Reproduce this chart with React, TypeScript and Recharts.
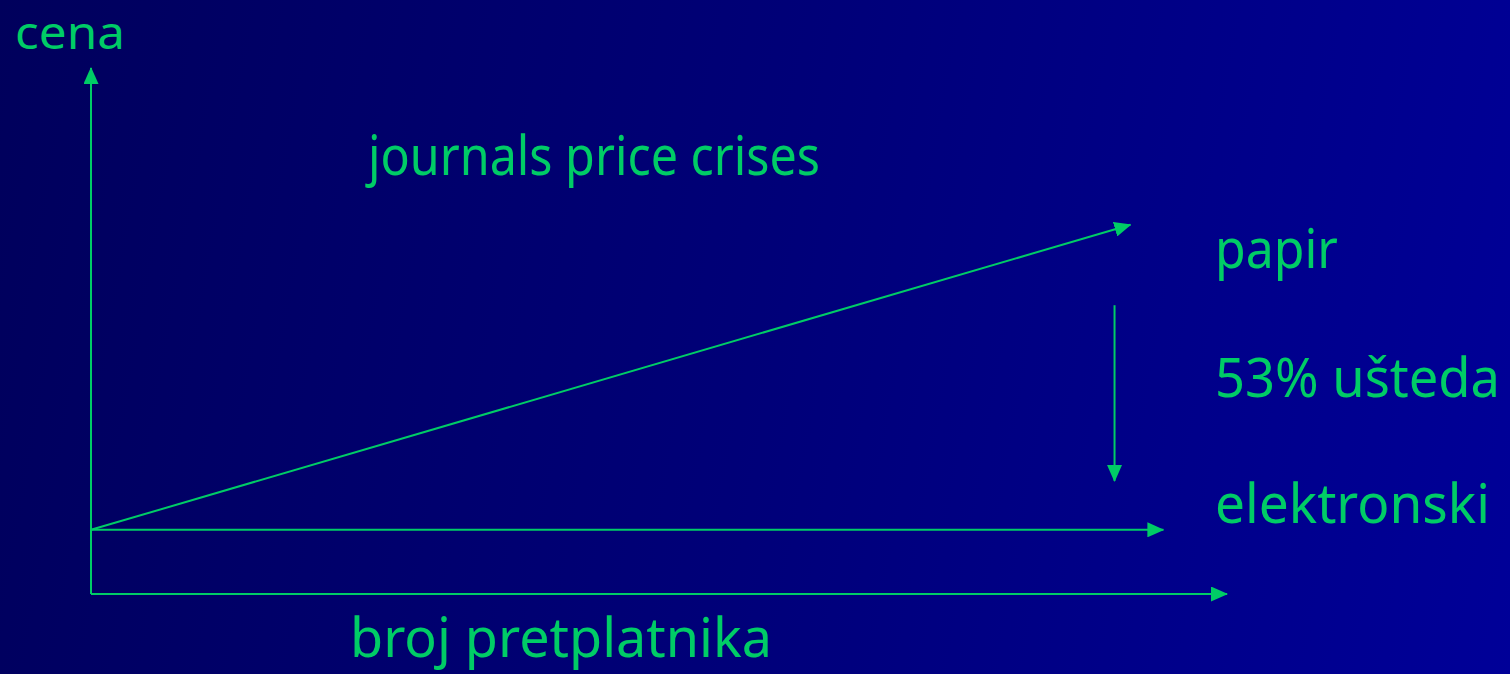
import React from "react";
import { LineChart, Line, XAxis, YAxis } from "recharts";

// abstract units: subscribers (x) and price (y), both 0..100
const axisX = [
  { x: 0, y: 0 },
  { x: 100, y: 0 },
];
const axisY = [
  { x: 0, y: 0 },
  { x: 0, y: 100 },
];
const paperPrice = [
  { x: 0, y: 12.2 },
  { x: 91.5, y: 70.2 },
];
const electronicPrice = [
  { x: 0, y: 12.2 },
  { x: 94.4, y: 12.2 },
];
const savingsArrow = [
  { x: 90.1, y: 54.9 },
  { x: 90.1, y: 21.5 },
];

const axisTitles = ["cena", "broj pretplatnika"];
const title = "journals price crises";
const sideLabels = ["papir", "53% ušteda", "elektronski"];

const GREEN = "#00cc66";
const FONT = '"Comic Sans MS", "Noto Sans", sans-serif';

function Txt({ x, y, w, size = 54, children }: { x: number; y: number; w: number; size?: number; children: string }) {
  return (
    <text
      x={x}
      y={y}
      fill={GREEN}
      fontFamily={FONT}
      fontSize={size}
      textLength={w}
      lengthAdjust="spacingAndGlyphs"
    >
      {children}
    </text>
  );
}

export default function App() {
  const line = (data: { x: number; y: number }[], key: string) => (
    <Line
      key={key}
      data={data}
      dataKey="y"
      type="linear"
      stroke={GREEN}
      strokeWidth={2}
      dot={false}
      activeDot={false}
      markerEnd="url(#arrowHead)"
      isAnimationActive={false}
    />
  );

  return (
    <div
      style={{
        position: "absolute",
        top: 0,
        left: 0,
        width: 1510,
        height: 674,
        background: "linear-gradient(100deg, #00005c 0%, #000078 50%, #000098 100%)",
      }}
    >
      <LineChart width={1510} height={674} margin={{ top: 68, right: 283, bottom: 80, left: 91 }}>
        <defs>
          <marker
            id="arrowHead"
            viewBox="0 0 17 15"
            refX={16}
            refY={7.5}
            markerWidth={17}
            markerHeight={15}
            markerUnits="userSpaceOnUse"
            orient="auto"
          >
            <path d="M0,0 L17,7.5 L0,15 Z" fill={GREEN} />
          </marker>
        </defs>
        <XAxis type="number" dataKey="x" domain={[0, 100]} hide allowDuplicatedCategory={false} />
        <YAxis type="number" domain={[0, 100]} hide />
        {line(axisX, "axisX")}
        {line(axisY, "axisY")}
        {line(paperPrice, "paper")}
        {line(electronicPrice, "electronic")}
        {line(savingsArrow, "savings")}
        <Txt x={15} y={49} w={110} size={46}>{axisTitles[0]}</Txt>
        <Txt x={350} y={657} w={422}>{axisTitles[1]}</Txt>
        <Txt x={368} y={175} w={452}>{title}</Txt>
        <Txt x={1215} y={268} w={123}>{sideLabels[0]}</Txt>
        <Txt x={1215} y={397} w={285}>{sideLabels[1]}</Txt>
        <Txt x={1215} y={523} w={275}>{sideLabels[2]}</Txt>
      </LineChart>
    </div>
  );
}
